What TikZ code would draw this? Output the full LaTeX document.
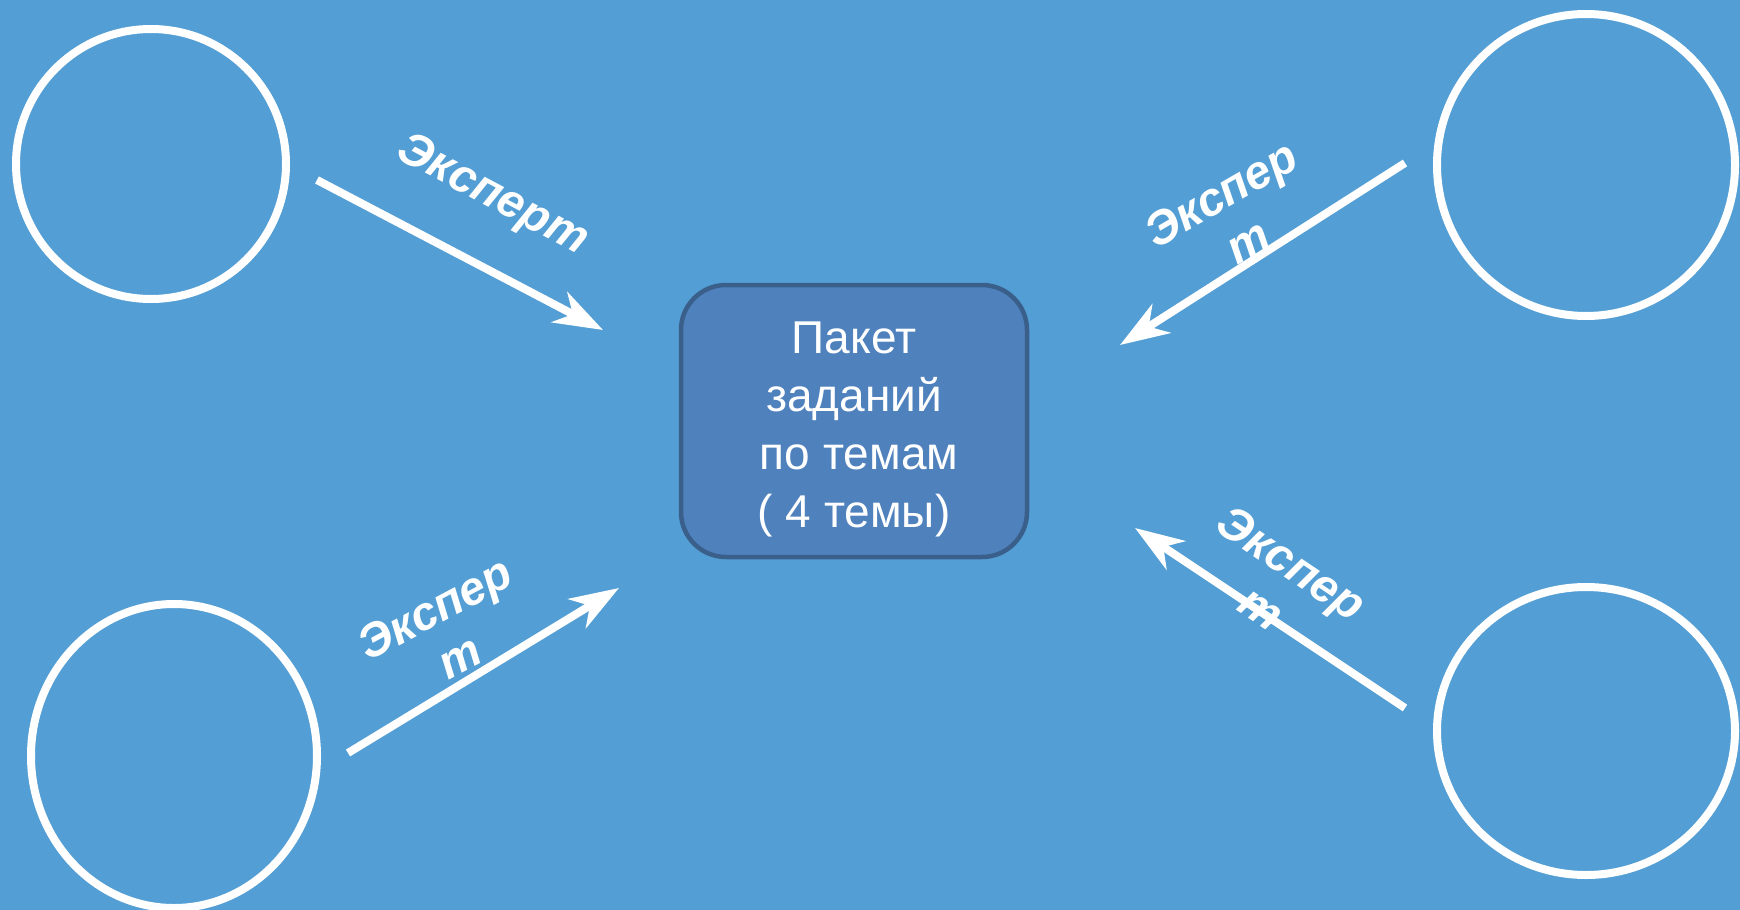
\documentclass[tikz,border=0pt]{standalone}
\usepackage{fontspec}
\setmainfont{Liberation Sans}
\usetikzlibrary{arrows.meta,shapes.geometric}
\definecolor{bgblue}{HTML}{539ED4}
\definecolor{pkgfill}{HTML}{4F81BD}
\definecolor{pkgline}{HTML}{3A5F8B}

\begin{document}
\begin{tikzpicture}[x=1pt, y=-1pt,
  expert/.style={ellipse, draw=white, line width=8pt, inner sep=0pt},
  pkg/.style={draw=pkgline, fill=pkgfill, line width=4.5pt, rounded corners=45pt,
              minimum width=346pt, minimum height=272pt, inner sep=0pt,
              align=center, text=white, font=\fontsize{46}{58}\selectfont},
  feed/.style={-{Stealth[length=49pt, width=34pt, inset=15pt]}, white, line width=8pt},
  lab/.style={align=center, text=white, inner sep=0pt,
              font=\fontsize{47}{54}\selectfont\bfseries\itshape}
]
  % Background
  \fill[bgblue] (0,0) rectangle (1740,910);
  \useasboundingbox (0,0) rectangle (1740,910);

  % Experts
  \node[expert, minimum width=270pt, minimum height=270pt] (E1) at (151,164) {};
  \node[expert, minimum width=298pt, minimum height=302pt] (E2) at (1586,165) {};
  \node[expert, minimum width=286pt, minimum height=304pt] (E3) at (174,756) {};
  \node[expert, minimum width=298pt, minimum height=288pt] (E4) at (1586,731) {};

  % Task package
  \node[pkg] (PK) at (854,421)
    {\rule{0pt}{48pt}Пакет\\ заданий\\ \hspace*{0.22em}по темам\\ ( 4 темы)};

  % Arrow ends
  \coordinate (F1) at (317,180);  \coordinate (T1) at (603,330);
  \coordinate (F2) at (1405,163); \coordinate (T2) at (1120,345);
  \coordinate (F3) at (348,753);  \coordinate (T3) at (619,588);
  \coordinate (F4) at (1405,708); \coordinate (T4) at (1135,528);

  \draw[feed] (F1) -- (T1);
  \draw[feed] (F2) -- (T2);
  \draw[feed] (F3) -- (T3);
  \draw[feed] (F4) -- (T4);

  % Labels
  \node[lab, rotate=-28] (L1) at (492,196) {Эксперт};
  \node[lab, rotate=30]  (L2) at (1234,217) {Экспер\\т};
  \node[lab, rotate=28]  (L3) at (447,632) {Экспер\\т};
  \node[lab, rotate=-34] (L4) at (1277,585) {Экспер\\т};
\end{tikzpicture}
\end{document}
